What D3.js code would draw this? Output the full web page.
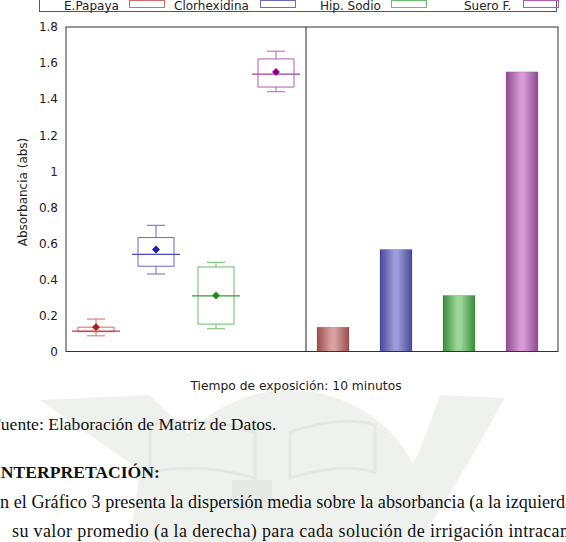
<!DOCTYPE html>
<html><head><meta charset="utf-8">
<script src="https://cdn.jsdelivr.net/npm/d3@7"></script>
<style>body{margin:0;background:#fff}svg{display:block}</style>
</head><body>
<svg id="c" width="566" height="542"></svg>
<script>
const categories = ["E.Papaya", "Clorhexidina", "Hip. Sodio", "Suero F."];
const whiskerHigh = [0.18, 0.70, 0.495, 1.666];
const q3 = [0.135, 0.632, 0.469, 1.623];
const medians = [0.113, 0.539, 0.309, 1.539];
const q1 = [0.11, 0.473, 0.152, 1.467];
const whiskerLow = [0.087, 0.43, 0.126, 1.441];
const means = [0.135, 0.566, 0.311, 1.551];
const yTicks = [0, 0.2, 0.4, 0.6, 0.8, 1, 1.2, 1.4, 1.6, 1.8];

const boxColors = ["#d46a6a", "#6a6ac8", "#6abd6a", "#b45ab4"];
const lineColors = ["#c33a3a", "#4a4ab4", "#3a983a", "#a040a0"];
const markColors = ["#b21c1c", "#1c1cb0", "#1c8c1c", "#8a008a"];
const barEdge = ["#9a4c4c", "#484898", "#3c8a3c", "#8e4a8e"];
const barLight = ["#d8a2a2", "#9c9cd8", "#9ad89a", "#d89ad8"];

const svg = d3.select("#c");
const pTop = 27, pBottom = 351.5, L = 66, M = 306, R = 558;
const y = d3.scaleLinear().domain([0, 1.8]).range([pBottom, pTop]);
const xL = d3.scaleBand().domain(categories).range([L, M]);
const xR = d3.scaleBand().domain(categories).range([M - 4.5, R - 4.5]);

// faint watermark behind the document text
const wm = svg.append("g").attr("fill", "#eff1ef");
wm.append("path").attr("d", "M40,400 L150,395 L215,460 L190,542 L130,542 L140,470 Z");
wm.append("path").attr("d", "M440,395 L505,398 L470,460 L420,542 L370,542 L420,450 Z");
wm.append("circle").attr("cx", 290).attr("cy", 530).attr("r", 140);
const bk = svg.append("g").attr("fill", "none").attr("stroke", "#e4e8e4").attr("stroke-width", 3);
bk.append("path").attr("d", "M150,425 Q200,415 255,432 L255,478 Q200,462 150,472 Z");
bk.append("path").attr("d", "M290,432 Q340,415 375,425 L375,472 Q340,462 290,478 Z");
svg.append("rect").attr("x", 232).attr("y", 480).attr("width", 40).attr("height", 30).attr("fill", "#e6eae6");

// legend
const lg = svg.append("g");
lg.append("rect").attr("x", 39.5).attr("y", -10).attr("width", 517).attr("height", 21.5)
  .attr("fill", "#fff").attr("stroke", "#555");
const legTextX = [64, 174, 320, 464];
const legSwX = [129, 260, 391, 523];
categories.forEach((c, i) => {
  lg.append("text").attr("x", legTextX[i]).attr("y", 9.8).text(c)
    .attr("font-family", "DejaVu Sans").attr("font-size", 12).attr("fill", "#222");
  lg.append("rect").attr("x", legSwX[i] + 0.5).attr("y", 0.5).attr("width", 35).attr("height", 7)
    .attr("fill", "none").attr("stroke", boxColors[i]);
});

// defs gradients
const defs = svg.append("defs");
categories.forEach((c, i) => {
  const g = defs.append("linearGradient").attr("id", "g" + i).attr("x1", 0).attr("x2", 1).attr("y1", 0).attr("y2", 0);
  g.append("stop").attr("offset", "0%").attr("stop-color", barEdge[i]);
  g.append("stop").attr("offset", "45%").attr("stop-color", barLight[i]);
  g.append("stop").attr("offset", "55%").attr("stop-color", barLight[i]);
  g.append("stop").attr("offset", "100%").attr("stop-color", barEdge[i]);
});

// y axis labels
const ax = svg.append("g").attr("transform", `translate(${L},0)`)
  .call(d3.axisLeft(y).tickValues(yTicks).tickSize(0).tickPadding(8).tickFormat(d => String(+d.toFixed(1))));
ax.select(".domain").remove();
ax.selectAll("text").attr("font-family", "DejaVu Sans").attr("font-size", 12).attr("fill", "#222");

svg.append("text").attr("transform", `translate(27,192) rotate(-90)`).attr("text-anchor", "middle")
  .attr("font-family", "DejaVu Sans").attr("font-size", 12).attr("fill", "#222").text("Absorbancia (abs)");

svg.append("text").attr("x", 296).attr("y", 390).attr("text-anchor", "middle")
  .attr("font-family", "DejaVu Sans").attr("font-size", 12.3).attr("fill", "#222").text("Tiempo de exposición: 10 minutos");

// boxes
const bw = xL.bandwidth();
const bx = svg.append("g");
categories.forEach((c, i) => {
  const cx = xL(c) + bw / 2;
  const g = bx.append("g").attr("fill", "none");
  g.append("line").attr("x1", cx).attr("x2", cx).attr("y1", y(whiskerHigh[i])).attr("y2", y(q3[i])).attr("stroke", boxColors[i]);
  g.append("line").attr("x1", cx).attr("x2", cx).attr("y1", y(q1[i])).attr("y2", y(whiskerLow[i])).attr("stroke", boxColors[i]);
  g.append("line").attr("x1", cx - bw * 0.15).attr("x2", cx + bw * 0.15).attr("y1", y(whiskerHigh[i])).attr("y2", y(whiskerHigh[i])).attr("stroke", boxColors[i]);
  g.append("line").attr("x1", cx - bw * 0.15).attr("x2", cx + bw * 0.15).attr("y1", y(whiskerLow[i])).attr("y2", y(whiskerLow[i])).attr("stroke", boxColors[i]);
  g.append("rect").attr("x", cx - bw * 0.3).attr("y", y(q3[i])).attr("width", bw * 0.6).attr("height", y(q1[i]) - y(q3[i])).attr("stroke", boxColors[i]);
  g.append("line").attr("x1", cx - bw * 0.4).attr("x2", cx + bw * 0.4).attr("y1", y(medians[i])).attr("y2", y(medians[i])).attr("stroke", lineColors[i]).attr("stroke-width", 1.2);
  g.append("path").attr("d", d3.symbol(d3.symbolDiamond2, 40)()).attr("transform", `translate(${cx},${y(means[i])})`).attr("fill", markColors[i]);
});

// bars
const bbw = 32;
categories.forEach((c, i) => {
  const cx = xR(c) + xR.bandwidth() / 2;
  svg.append("rect").attr("x", cx - bbw / 2).attr("y", y(means[i])).attr("width", bbw).attr("height", y(0) - y(means[i]))
    .attr("fill", `url(#g${i})`).attr("stroke", barEdge[i]).attr("stroke-opacity", 0.5).attr("stroke-width", 0.5);
});

// frames
svg.append("rect").attr("x", L).attr("y", pTop).attr("width", R - L).attr("height", pBottom - pTop)
  .attr("fill", "none").attr("stroke", "#333").attr("stroke-width", 1);
svg.append("line").attr("x1", M).attr("x2", M).attr("y1", pTop).attr("y2", pBottom).attr("stroke", "#222");

// document text
const t = svg.append("g").attr("font-family", "Liberation Serif").attr("fill", "#111");
t.append("text").attr("x", -9).attr("y", 430).attr("font-size", 17.6).text("Fuente: Elaboración de Matriz de Datos.");
t.append("text").attr("x", -6).attr("y", 478).attr("font-size", 17.6).attr("font-weight", "bold").text("INTERPRETACIÓN:");
t.append("text").attr("x", -11).attr("y", 508).attr("font-size", 18.2).text("En el Gráfico 3 presenta la dispersión media sobre la absorbancia (a la izquierda)");
t.append("text").attr("x", 12).attr("y", 537).attr("font-size", 18).attr("textLength", 562).attr("lengthAdjust", "spacing")
  .text("su valor promedio (a la derecha) para cada solución de irrigación intracam");
</script>
</body></html>
